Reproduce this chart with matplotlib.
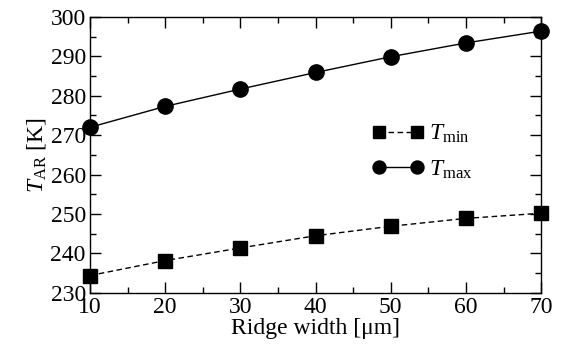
import matplotlib
matplotlib.use("Agg")
import matplotlib.pyplot as plt
from matplotlib.ticker import MultipleLocator

plt.rcParams['font.family'] = ['Liberation Serif', 'DejaVu Serif']
plt.rcParams['mathtext.fontset'] = 'custom'
plt.rcParams['mathtext.rm'] = 'Liberation Serif'
plt.rcParams['mathtext.it'] = 'Liberation Serif:italic'

ridge_width = [10, 20, 30, 40, 50, 60, 70]
t_min = [234.4, 238.2, 241.4, 244.5, 246.9, 248.9, 250.2]
t_max = [272.0, 277.3, 281.7, 285.9, 289.9, 293.4, 296.4]

fig = plt.figure(figsize=(5.62, 3.45), dpi=100)
ax = fig.add_axes([0.160, 0.151, 0.803, 0.800])

ax.plot(ridge_width, t_min, color='black', linestyle=(0, (4, 2.5)), linewidth=1.0,
        marker='s', markersize=10, label=r'$T_{\rm min}$', clip_on=False, zorder=3)
ax.plot(ridge_width, t_max, color='black', linestyle='-', linewidth=1.0,
        marker='o', markersize=11, label=r'$T_{\rm max}$', clip_on=False, zorder=3)

ax.set_xlim(10, 70)
ax.set_ylim(230, 300)
ax.xaxis.set_major_locator(MultipleLocator(10))
ax.xaxis.set_minor_locator(MultipleLocator(5))
ax.yaxis.set_major_locator(MultipleLocator(10))
ax.yaxis.set_minor_locator(MultipleLocator(5))
ax.tick_params(which='both', direction='in', top=True, right=True, labelsize=17, width=1.0)
ax.tick_params(which='major', length=8, pad=3)
ax.tick_params(which='minor', length=4)
for s in ax.spines.values():
    s.set_linewidth(1.0)

ax.set_xlabel('Ridge width [μm]', fontsize=17, labelpad=0)
ax.set_ylabel(r'$T_{\rm AR}$ [K]', fontsize=17, labelpad=2)

ax.legend(loc='upper left', bbox_to_anchor=(0.605, 0.65), frameon=False, fontsize=17,
          handlelength=2.2, numpoints=2, labelspacing=0.55, handletextpad=0.2,
          borderaxespad=0, markerscale=0.85)

fig.savefig('out.png', dpi=100)
